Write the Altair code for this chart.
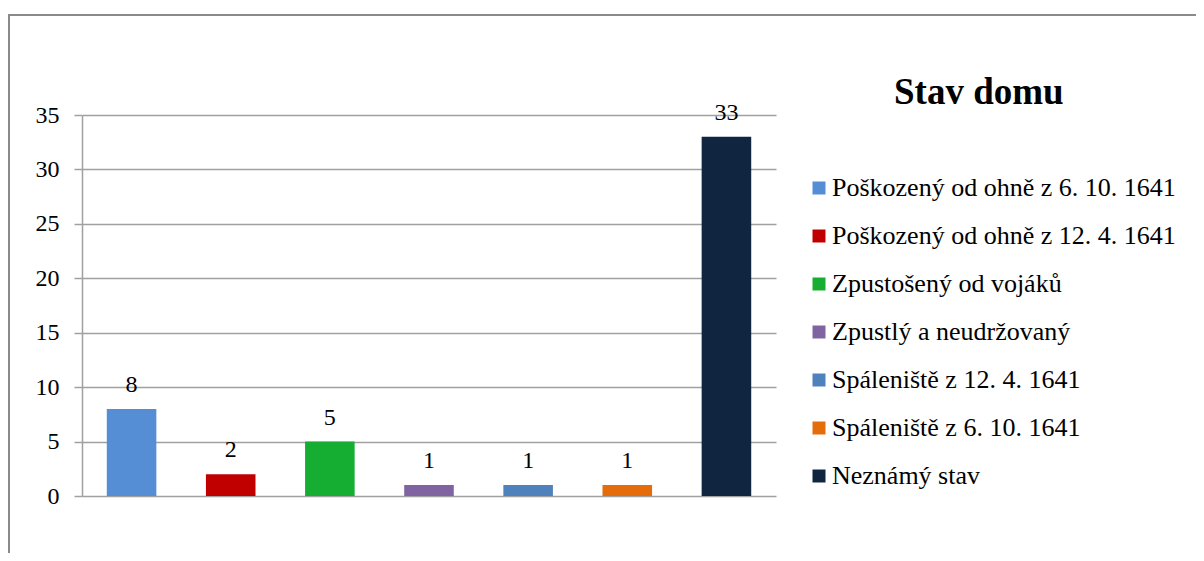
import altair as alt
import pandas as pd

categories = [
    "Poškozený od ohně z 6. 10. 1641",
    "Poškozený od ohně z 12. 4. 1641",
    "Zpustošený od vojáků",
    "Zpustlý a neudržovaný",
    "Spáleniště z 12. 4. 1641",
    "Spáleniště z 6. 10. 1641",
    "Neznámý stav",
]
counts = [8, 2, 5, 1, 1, 1, 33]
colors = ["#558ED5", "#C00000", "#15AE32", "#8064A2", "#4F81BD", "#E46C0A", "#10253F"]
y_ticks = [0, 5, 10, 15, 20, 25, 30, 35]
chart_title = ["Stav domu"]

df = pd.DataFrame({"stav": categories, "pocet": counts})
FONT = "'Liberation Serif', 'Times New Roman', Times, 'DejaVu Serif', serif"

x_enc = alt.X("stav:N", sort=categories, axis=None,
              scale=alt.Scale(paddingInner=0.5, paddingOuter=0.25))
y_enc = alt.Y("pocet:Q",
              scale=alt.Scale(domain=[0, 35], nice=False),
              axis=alt.Axis(values=y_ticks, title=None, grid=True,
                            gridColor="#A0A0A0", gridWidth=1.5,
                            domainColor="#A0A0A0", domainWidth=1.5,
                            tickColor="#A0A0A0", tickWidth=1.5, tickSize=8,
                            labelFont=FONT, labelFontSize=24, labelColor="black",
                            labelPadding=15))

bars = alt.Chart(df).mark_bar().encode(
    x=x_enc,
    y=y_enc,
    color=alt.Color("stav:N", sort=categories,
                    scale=alt.Scale(domain=categories, range=colors),
                    legend=alt.Legend(title=None, orient="none", legendX=724, legendY=60,
                                      symbolType="square", symbolSize=169,
                                      symbolStrokeWidth=0, labelFont=FONT,
                                      labelFontSize=26, labelColor="black",
                                      labelOffset=0, rowPadding=22, padding=0,
                                      labelLimit=500)),
)

labels = alt.Chart(df).mark_text(font=FONT, fontSize=24, color="black",
                                 baseline="alphabetic", dy=-17).encode(
    x=alt.X("stav:N", sort=categories, axis=None),
    y=alt.Y("pocet:Q"),
    text=alt.Text("pocet:Q"),
)

title_text = alt.Chart(pd.DataFrame({"t": chart_title})).mark_text(
    font=FONT, fontSize=37, fontWeight="bold", color="black",
    align="left", baseline="alphabetic"
).encode(x=alt.value(812), y=alt.value(-11), text="t:N")

frame = alt.Chart(df).mark_rect(fill=None, stroke="#8A8A8A", strokeWidth=2, clip=False).encode(
    x=alt.value(-73), x2=alt.value(1300), y=alt.value(-100), y2=alt.value(700)
)

chart = alt.layer(frame, bars, labels, title_text).properties(
    width=694, height=381,
    padding={"left": 74, "top": 107, "right": 420, "bottom": 57},
    autosize=alt.AutoSizeParams(type="none"),
).configure(
    background="white", font=FONT
).configure_view(stroke=None).configure_axis(
    labelFont=FONT
).configure_legend(labelFont=FONT)

chart.save("out.html", embed_options={"renderer": "svg", "actions": False})
